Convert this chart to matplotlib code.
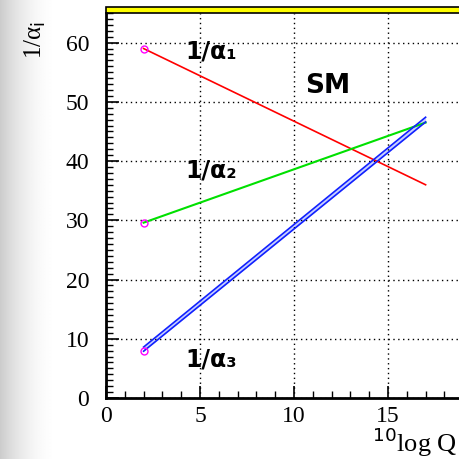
import matplotlib
matplotlib.use('Agg')
import matplotlib.pyplot as plt
import numpy as np
from matplotlib.patches import Rectangle
from matplotlib.ticker import MultipleLocator

# Running couplings in the Standard Model
log_q = [2, 17]
inv_alpha1 = [59.0, 36.0]
inv_alpha2 = [29.6, 46.5]
inv_alpha3_hi = [8.6, 47.4]
inv_alpha3_lo = [7.9, 46.6]
x_ticks = [0, 5, 10, 15]
y_ticks = [0, 10, 20, 30, 40, 50, 60]

plt.rcParams['font.family'] = ['Liberation Serif', 'DejaVu Serif']

fig = plt.figure(figsize=(4.6, 4.59), dpi=100)

# grey shadow on the left edge of the slide
bg = fig.add_axes([0, 0, 1, 1], zorder=-10)
t = np.clip(np.arange(460) / 60.0, 0, 1)
shade = 1 - 0.2 * (1 - t) ** 2
bg.imshow(np.tile(shade, (10, 1)), cmap='gray', vmin=0, vmax=1,
          aspect='auto', extent=[0, 1, 0, 1], interpolation='bilinear')
bg.set_axis_off()

ax = fig.add_axes([106 / 460, 61 / 459, 376 / 460, 385 / 459])
ax.set_facecolor('none')
ax.set_xlim(0, 20)
ax.set_ylim(0, 65)

ax.plot(log_q, inv_alpha1, color='red', lw=1.2)
ax.plot(log_q, inv_alpha2, color='#00e000', lw=1.5)
ax.fill_between(log_q, inv_alpha3_lo, inv_alpha3_hi, color='#c8d0ff', lw=0)
ax.plot(log_q, inv_alpha3_hi, color='#1020ff', lw=1.2)
ax.plot(log_q, inv_alpha3_lo, color='#1020ff', lw=1.2)
ax.plot([log_q[0]] * 3, [inv_alpha1[0], inv_alpha2[0], inv_alpha3_lo[0]],
        'o', mfc='none', mec='magenta', ms=5, mew=1)

lab = dict(family='DejaVu Sans', fontweight='bold', fontsize=17, color='black')
ax.text(4.2, 57.3, '1/α₁', **lab)
ax.text(4.2, 37.3, '1/α₂', **lab)
ax.text(4.2, 5.3, '1/α₃', **lab)
ax.text(10.6, 51.5, 'SM', family='DejaVu Sans', fontweight='bold', fontsize=19)

ax.set_xticks(x_ticks)
ax.set_yticks(y_ticks)
ax.xaxis.set_minor_locator(MultipleLocator(1))
ax.yaxis.set_minor_locator(MultipleLocator(1))
ax.tick_params(which='major', direction='in', length=9, width=1.2,
               labelsize=17, top=False, right=False)
ax.tick_params(which='minor', direction='in', length=5, width=1,
               top=False, right=False)
ax.tick_params(axis='x', pad=6)
ax.tick_params(axis='y', pad=12)
ax.grid(True, which='major', color='black', linestyle=(0, (1, 2.5)), lw=1)
for s in ['left', 'bottom']:
    ax.spines[s].set_linewidth(2)
ax.spines['top'].set_visible(False)
ax.spines['right'].set_visible(False)

# yellow frame strip on top of the pad
ax.add_patch(Rectangle((0, 1.0), 1.0, 0.015, transform=ax.transAxes,
                       facecolor='yellow', edgecolor='black', lw=1.2,
                       clip_on=False))

fig.text(35 / 460, 1 - 40 / 459, '1/α$_{\\rm i}$', rotation=90,
         fontsize=18, ha='center', va='center')
fig.text(372 / 460, 1 - 442 / 459, r'$^{10}$log Q', fontsize=19,
         ha='left', va='center')

fig.savefig('out.png', dpi=100)
